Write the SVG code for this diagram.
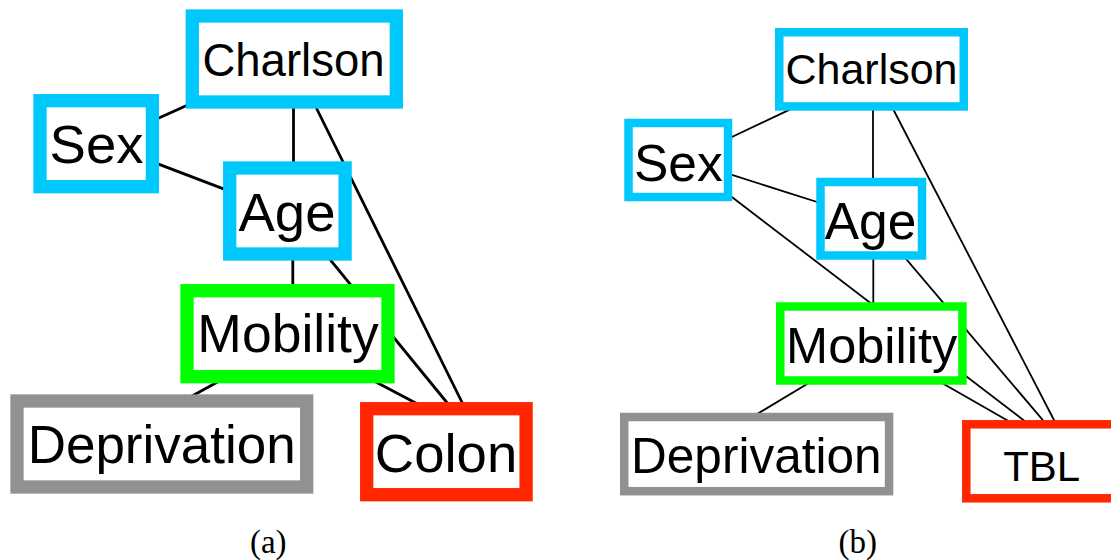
<svg xmlns="http://www.w3.org/2000/svg" width="1111" height="560" viewBox="0 0 1111 560">
<style>
.lbl{font-family:"Liberation Sans",Arial,sans-serif;fill:#000;text-anchor:middle}
.cap{font-family:"Liberation Serif","Times New Roman",serif;font-size:33px;fill:#000;text-anchor:middle}
.a{fill:#fff;stroke-width:13.3}
.b{fill:#fff;stroke-width:8.5}
.blue{stroke:#00c8fc}
.green{stroke:#00ff00}
.gray{stroke:#919191}
.red{stroke:#ff2600}
.ea{stroke:#000;stroke-width:2.8;fill:none}
.eb{stroke:#000;stroke-width:1.8;fill:none}
</style>
<g id="connectors">
<line class="ea" x1="150" y1="122" x2="195" y2="101.8"/>
<line class="ea" x1="150" y1="160.9" x2="232" y2="192.1"/>
<line class="ea" x1="293.5" y1="100" x2="293.5" y2="170"/>
<line class="ea" x1="292.8" y1="252" x2="292.8" y2="292"/>
<line class="ea" x1="312.4" y1="100" x2="465.8" y2="410"/>
<line class="ea" x1="323.9" y1="252" x2="453" y2="410"/>
<line class="ea" x1="365" y1="376.3" x2="428" y2="409.4"/>
<line class="ea" x1="228" y1="376.2" x2="182" y2="401.5"/>
<line class="eb" x1="725" y1="140.2" x2="795" y2="107.1"/>
<line class="eb" x1="873" y1="105" x2="873" y2="185"/>
<line class="eb" x1="891" y1="105" x2="1058.1" y2="428"/>
<line class="eb" x1="725" y1="172.7" x2="825" y2="204.5"/>
<line class="eb" x1="725" y1="191.7" x2="1034" y2="428.2"/>
<line class="eb" x1="873.3" y1="252" x2="873.3" y2="310"/>
<line class="eb" x1="900.2" y1="252" x2="1049.5" y2="428"/>
<line class="eb" x1="935" y1="379" x2="1020" y2="427.6"/>
<line class="eb" x1="815" y1="379.3" x2="750" y2="418.3"/>
</g>
<g id="a-charlson"><rect class="a blue" x="192.3" y="16" width="204" height="86"/><text class="lbl" x="293.5" y="76" font-size="45.5">Charlson</text></g>
<g id="a-sex"><rect class="a blue" x="40" y="100.7" width="112.4" height="86"/><text class="lbl" x="96.5" y="163.3" font-size="54.5">Sex</text></g>
<g id="a-age"><rect class="a blue" x="229.7" y="168" width="115.4" height="86"/><text class="lbl" x="287" y="230.7" font-size="54.5">Age</text></g>
<g id="a-mobility"><rect class="a green" x="187" y="290.7" width="201" height="86"/><text class="lbl" x="288" y="352.3" font-size="53.5">Mobility</text></g>
<g id="a-deprivation"><rect class="a gray" x="17" y="401" width="289.7" height="86"/><text class="lbl" x="161.7" y="463.3" font-size="53">Deprivation</text></g>
<g id="a-colon"><rect class="a red" x="366.7" y="408.7" width="159.4" height="86"/><text class="lbl" x="446" y="471.7" font-size="54.5">Colon</text></g>
<g id="b-charlson"><rect class="b blue" x="779.25" y="32.25" width="184.5" height="74.2"/><text class="lbl" x="871.5" y="84.3" font-size="43">Charlson</text></g>
<g id="b-sex"><rect class="b blue" x="628.5" y="123" width="99.5" height="74"/><text class="lbl" x="678.3" y="180.7" font-size="51.5">Sex</text></g>
<g id="b-age"><rect class="b blue" x="820.5" y="182" width="101.5" height="73.5"/><text class="lbl" x="870.5" y="238.7" font-size="51.5">Age</text></g>
<g id="b-mobility"><rect class="b green" x="780.25" y="306.5" width="182.2" height="74"/><text class="lbl" x="871.7" y="362.7" font-size="50.5">Mobility</text></g>
<g id="b-deprivation"><rect class="b gray" x="624.25" y="417" width="264.8" height="74.2"/><text class="lbl" x="756.3" y="473.3" font-size="49.5">Deprivation</text></g>
<g id="b-tbl"><rect class="b red" x="966.3" y="424.3" width="150.8" height="74"/><text class="lbl" x="1041.7" y="481" font-size="42">TBL</text></g>
<text class="cap" x="268.3" y="553">(a)</text>
<text class="cap" x="857.7" y="553">(b)</text>
</svg>
